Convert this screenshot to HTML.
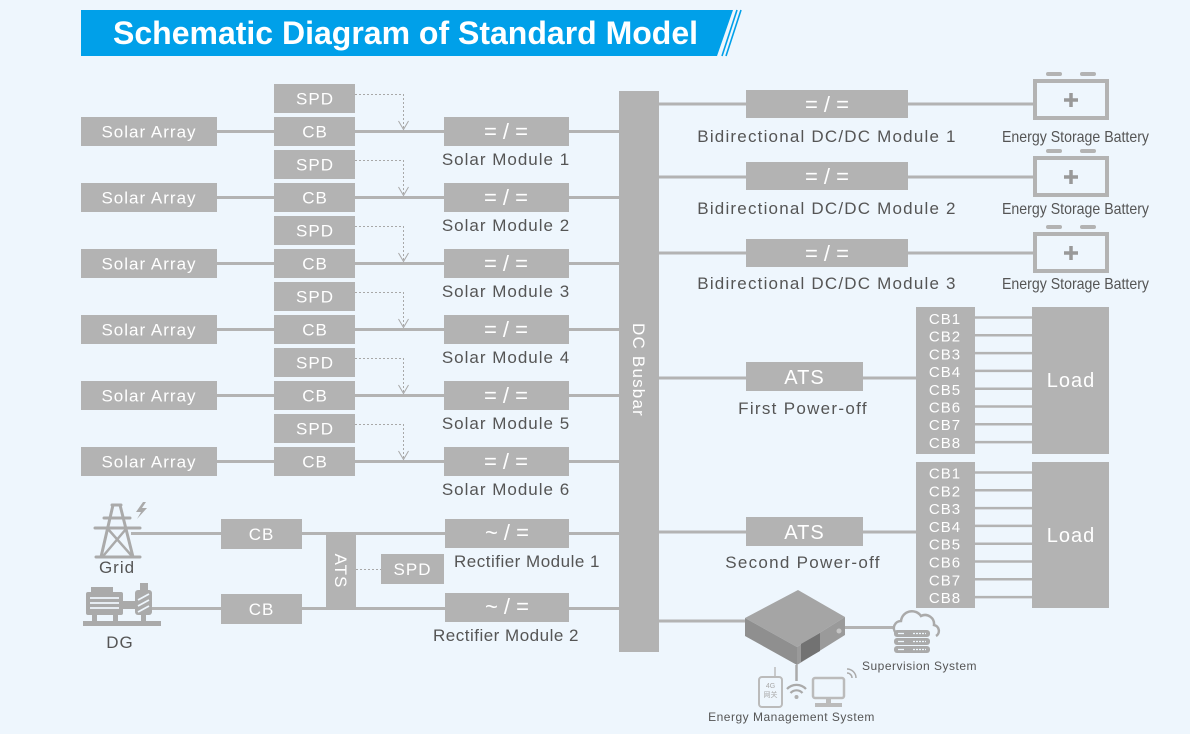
<!DOCTYPE html>
<html><head><meta charset="utf-8"><style>
html,body{margin:0;padding:0;background:#eef6fd;}
svg{display:block;font-family:"Liberation Sans",Arial,sans-serif;}
.b{fill:#b3b3b3}
.ln{stroke:#b3b3b3;stroke-width:3;fill:none}
.th{stroke:#b3b3b3;stroke-width:2.5;fill:none}
.ds{stroke:#a8a8a8;stroke-width:1;fill:none;stroke-dasharray:2,2}
.ar{stroke:#a8a8a8;stroke-width:1;fill:none}
.w{fill:#fff;text-anchor:middle}
.lb{fill:#555;font-size:17px;letter-spacing:1px;text-anchor:middle}
.t17{font-size:17px;letter-spacing:1px}
.eq{font-size:22px}
.ic{fill:#aaa}
.is{stroke:#aaa;fill:none}
</style></head><body>
<svg width="1190" height="734" viewBox="0 0 1190 734" xmlns="http://www.w3.org/2000/svg">
<rect width="1190" height="734" fill="#eef6fd"/>
<!-- Title -->
<polygon points="81,10 733,10 717,56 81,56" fill="#00a0e9"/>
<line x1="737" y1="10" x2="722" y2="56" stroke="#00a0e9" stroke-width="1.6"/>
<line x1="741" y1="10" x2="726" y2="56" stroke="#00a0e9" stroke-width="1.6"/>
<text x="113" y="44" font-size="32" font-weight="bold" fill="#fff">Schematic Diagram of Standard Model</text>

<!-- Solar rows -->
<g id="r0">
<rect class="b" x="274" y="84" width="81" height="29"/>
<rect class="b" x="81" y="117" width="136" height="29"/>
<rect class="b" x="274" y="117" width="81" height="29"/>
<rect class="b" x="444" y="117" width="125" height="29"/>
<path class="ln" d="M217,131.5H274M355,131.5H444M569,131.5H619"/>
<path class="ds" d="M355,94.5H403.5V129"/>
<polyline class="ar" points="398.5,121 403.5,129.5 408.5,121"/>
<text class="w t17" x="149" y="137.5">Solar Array</text>
<text class="w t17" x="315" y="104.5">SPD</text>
<text class="w t17" x="315" y="137.5">CB</text>
<text class="w eq" x="506" y="139">= / =</text>
<text class="lb" x="506" y="165">Solar Module 1</text>
</g>
<g transform="translate(0,66)">
<rect class="b" x="274" y="84" width="81" height="29"/>
<rect class="b" x="81" y="117" width="136" height="29"/>
<rect class="b" x="274" y="117" width="81" height="29"/>
<rect class="b" x="444" y="117" width="125" height="29"/>
<path class="ln" d="M217,131.5H274M355,131.5H444M569,131.5H619"/>
<path class="ds" d="M355,94.5H403.5V129"/>
<polyline class="ar" points="398.5,121 403.5,129.5 408.5,121"/>
<text class="w t17" x="149" y="137.5">Solar Array</text>
<text class="w t17" x="315" y="104.5">SPD</text>
<text class="w t17" x="315" y="137.5">CB</text>
<text class="w eq" x="506" y="139">= / =</text>
<text class="lb" x="506" y="165">Solar Module 2</text>
</g>
<g transform="translate(0,132)">
<rect class="b" x="274" y="84" width="81" height="29"/>
<rect class="b" x="81" y="117" width="136" height="29"/>
<rect class="b" x="274" y="117" width="81" height="29"/>
<rect class="b" x="444" y="117" width="125" height="29"/>
<path class="ln" d="M217,131.5H274M355,131.5H444M569,131.5H619"/>
<path class="ds" d="M355,94.5H403.5V129"/>
<polyline class="ar" points="398.5,121 403.5,129.5 408.5,121"/>
<text class="w t17" x="149" y="137.5">Solar Array</text>
<text class="w t17" x="315" y="104.5">SPD</text>
<text class="w t17" x="315" y="137.5">CB</text>
<text class="w eq" x="506" y="139">= / =</text>
<text class="lb" x="506" y="165">Solar Module 3</text>
</g>
<g transform="translate(0,198)">
<rect class="b" x="274" y="84" width="81" height="29"/>
<rect class="b" x="81" y="117" width="136" height="29"/>
<rect class="b" x="274" y="117" width="81" height="29"/>
<rect class="b" x="444" y="117" width="125" height="29"/>
<path class="ln" d="M217,131.5H274M355,131.5H444M569,131.5H619"/>
<path class="ds" d="M355,94.5H403.5V129"/>
<polyline class="ar" points="398.5,121 403.5,129.5 408.5,121"/>
<text class="w t17" x="149" y="137.5">Solar Array</text>
<text class="w t17" x="315" y="104.5">SPD</text>
<text class="w t17" x="315" y="137.5">CB</text>
<text class="w eq" x="506" y="139">= / =</text>
<text class="lb" x="506" y="165">Solar Module 4</text>
</g>
<g transform="translate(0,264)">
<rect class="b" x="274" y="84" width="81" height="29"/>
<rect class="b" x="81" y="117" width="136" height="29"/>
<rect class="b" x="274" y="117" width="81" height="29"/>
<rect class="b" x="444" y="117" width="125" height="29"/>
<path class="ln" d="M217,131.5H274M355,131.5H444M569,131.5H619"/>
<path class="ds" d="M355,94.5H403.5V129"/>
<polyline class="ar" points="398.5,121 403.5,129.5 408.5,121"/>
<text class="w t17" x="149" y="137.5">Solar Array</text>
<text class="w t17" x="315" y="104.5">SPD</text>
<text class="w t17" x="315" y="137.5">CB</text>
<text class="w eq" x="506" y="139">= / =</text>
<text class="lb" x="506" y="165">Solar Module 5</text>
</g>
<g transform="translate(0,330)">
<rect class="b" x="274" y="84" width="81" height="29"/>
<rect class="b" x="81" y="117" width="136" height="29"/>
<rect class="b" x="274" y="117" width="81" height="29"/>
<rect class="b" x="444" y="117" width="125" height="29"/>
<path class="ln" d="M217,131.5H274M355,131.5H444M569,131.5H619"/>
<path class="ds" d="M355,94.5H403.5V129"/>
<polyline class="ar" points="398.5,121 403.5,129.5 408.5,121"/>
<text class="w t17" x="149" y="137.5">Solar Array</text>
<text class="w t17" x="315" y="104.5">SPD</text>
<text class="w t17" x="315" y="137.5">CB</text>
<text class="w eq" x="506" y="139">= / =</text>
<text class="lb" x="506" y="165">Solar Module 6</text>
</g>

<!-- Grid / DG section -->
<!-- tower -->
<g class="is" stroke-width="3" stroke-linecap="round">
<line x1="112" y1="505" x2="121" y2="505"/>
<line x1="113" y1="505" x2="101" y2="557"/>
<line x1="120" y1="505" x2="133" y2="557"/>
<line x1="104" y1="518" x2="130" y2="518"/>
<line x1="95" y1="528" x2="140" y2="528"/>
<line x1="96" y1="557" x2="140" y2="557"/>
<line x1="108" y1="529" x2="131" y2="555" stroke-width="2.5"/>
<line x1="126" y1="529" x2="104" y2="555" stroke-width="2.5"/>
</g>
<polygon class="ic" points="143,502 136,512 141,512 137,519 147,508 142,508 146,502"/>
<!-- DG -->
<g class="ic">
<rect x="83" y="621" width="78" height="5"/>
<rect x="92" y="613" width="5" height="9"/>
<rect x="113" y="613" width="5" height="9"/>
<rect x="141" y="613" width="5" height="9"/>
<rect x="86" y="592" width="37" height="23" rx="2"/>
<rect x="91" y="587" width="22" height="6"/>
<rect x="123" y="601" width="12" height="8"/>
<rect x="135" y="590" width="17" height="25" rx="3"/>
<rect x="140" y="583" width="8" height="8"/>
</g>
<g stroke="#eef6fd" stroke-width="1.8">
<line x1="90" y1="598" x2="119" y2="598"/>
<line x1="90" y1="603" x2="119" y2="603"/>
<line x1="90" y1="608" x2="119" y2="608"/>
<line x1="138" y1="600" x2="149" y2="594"/>
<line x1="138" y1="606" x2="149" y2="600"/>
<line x1="138" y1="612" x2="149" y2="606"/>
</g>
<text class="lb" x="117" y="573">Grid</text>
<text class="lb" x="120" y="648">DG</text>

<path class="ln" d="M131,533.5H221M302,533.5H445M569,533.5H619M152,608.5H221M302,608.5H445M569,608.5H619"/>
<rect class="b" x="221" y="519" width="81" height="30"/>
<rect class="b" x="221" y="594" width="81" height="30"/>
<rect class="b" x="326" y="535" width="30" height="73"/>
<rect class="b" x="381" y="554" width="63" height="30"/>
<path class="ds" d="M356,569.5H381"/>
<rect class="b" x="445" y="519" width="124" height="29"/>
<rect class="b" x="445" y="593" width="124" height="29"/>
<text class="w t17" x="261.5" y="540">CB</text>
<text class="w t17" x="261.5" y="615">CB</text>
<text class="w t17" x="412.5" y="575">SPD</text>
<text class="w t17" transform="translate(341,571) rotate(90)" y="6">ATS</text>
<text class="w eq" x="507" y="540">~ / =</text>
<text class="w eq" x="507" y="614">~ / =</text>
<text class="lb" x="527" y="567" style="letter-spacing:0.5px">Rectifier Module 1</text>
<text class="lb" x="506" y="641" style="letter-spacing:0.5px">Rectifier Module 2</text>

<!-- DC busbar -->
<rect class="b" x="619" y="91" width="40" height="561"/>
<text class="w t17" transform="translate(639,370) rotate(90)" y="6" style="letter-spacing:1.2px">DC Busbar</text>

<!-- Bidirectional -->
<path class="ln" d="M659,104H746M908,104H1033M659,177H746M908,177H1033M659,253H746M908,253H1033"/>
<rect class="b" x="746" y="90" width="162" height="28"/>
<rect class="b" x="746" y="162" width="162" height="28"/>
<rect class="b" x="746" y="239" width="162" height="28"/>
<text class="w eq" x="827" y="112">= / =</text>
<text class="w eq" x="827" y="184">= / =</text>
<text class="w eq" x="827" y="261">= / =</text>
<text class="lb" x="827" y="142" style="letter-spacing:1.2px">Bidirectional DC/DC Module 1</text>
<text class="lb" x="827" y="214" style="letter-spacing:1.2px">Bidirectional DC/DC Module 2</text>
<text class="lb" x="827" y="289" style="letter-spacing:1.2px">Bidirectional DC/DC Module 3</text>
<!-- batteries -->
<g>
<rect x="1035" y="81" width="72" height="37" fill="none" stroke="#b3b3b3" stroke-width="4"/>
<rect x="1046" y="72" width="16" height="4" rx="2" fill="#b3b3b3"/>
<rect x="1080" y="72" width="16" height="4" rx="2" fill="#b3b3b3"/>
<path d="M1064,100H1078M1071,93V107" stroke="#999" stroke-width="3.5"/>
</g>
<g transform="translate(0,77)">
<rect x="1035" y="81" width="72" height="37" fill="none" stroke="#b3b3b3" stroke-width="4"/>
<rect x="1046" y="72" width="16" height="4" rx="2" fill="#b3b3b3"/>
<rect x="1080" y="72" width="16" height="4" rx="2" fill="#b3b3b3"/>
<path d="M1064,100H1078M1071,93V107" stroke="#999" stroke-width="3.5"/>
</g>
<g transform="translate(0,153)">
<rect x="1035" y="81" width="72" height="37" fill="none" stroke="#b3b3b3" stroke-width="4"/>
<rect x="1046" y="72" width="16" height="4" rx="2" fill="#b3b3b3"/>
<rect x="1080" y="72" width="16" height="4" rx="2" fill="#b3b3b3"/>
<path d="M1064,100H1078M1071,93V107" stroke="#999" stroke-width="3.5"/>
</g>
<text x="1002" y="142" font-size="16" fill="#555" textLength="147" lengthAdjust="spacingAndGlyphs">Energy Storage Battery</text>
<text x="1002" y="214" font-size="16" fill="#555" textLength="147" lengthAdjust="spacingAndGlyphs">Energy Storage Battery</text>
<text x="1002" y="289" font-size="16" fill="#555" textLength="147" lengthAdjust="spacingAndGlyphs">Energy Storage Battery</text>

<!-- ATS / Load 1 -->
<path class="ln" d="M659,378H746M863,378H916M659,532H746M863,532H916"/>
<rect class="b" x="746" y="362" width="117" height="29"/>
<rect class="b" x="746" y="517" width="117" height="29"/>
<text class="w" x="804.5" y="384" font-size="20" style="letter-spacing:1px">ATS</text>
<text class="w" x="804.5" y="539" font-size="20" style="letter-spacing:1px">ATS</text>
<text class="lb" x="803" y="414" style="letter-spacing:1.3px">First Power-off</text>
<text class="lb" x="803" y="568" style="letter-spacing:1.3px">Second Power-off</text>

<rect class="b" x="916" y="307" width="59" height="147"/>
<rect class="b" x="1032" y="307" width="77" height="147"/>
<rect class="b" x="916" y="462" width="59" height="146"/>
<rect class="b" x="1032" y="462" width="77" height="146"/>
<path class="th" d="M975,317.5H1032M975,335.3H1032M975,353.1H1032M975,370.9H1032M975,388.7H1032M975,406.5H1032M975,424.3H1032M975,442.1H1032"/>
<path class="th" d="M975,472.5H1032M975,490.3H1032M975,508.1H1032M975,525.9H1032M975,543.7H1032M975,561.5H1032M975,579.3H1032M975,597.1H1032"/>
<g class="w" font-size="15" style="letter-spacing:1px">
<text x="945" y="324">CB1</text><text x="945" y="341.7">CB2</text><text x="945" y="359.4">CB3</text><text x="945" y="377.1">CB4</text>
<text x="945" y="394.8">CB5</text><text x="945" y="412.5">CB6</text><text x="945" y="430.2">CB7</text><text x="945" y="448">CB8</text>
<text x="945" y="478.5">CB1</text><text x="945" y="496.3">CB2</text><text x="945" y="514.1">CB3</text><text x="945" y="531.9">CB4</text>
<text x="945" y="549.7">CB5</text><text x="945" y="567.5">CB6</text><text x="945" y="585.3">CB7</text><text x="945" y="603">CB8</text>
</g>
<text class="w" x="1071" y="387" font-size="20" style="letter-spacing:1px">Load</text>
<text class="w" x="1071" y="542" font-size="20" style="letter-spacing:1px">Load</text>

<!-- Energy management -->
<path class="ln" d="M659,621H746M845,627.5H893"/>
<polygon points="798,590 745,618 797,647 845,617" fill="#a5a5a5"/>
<polygon points="745,618 797,647 797,665 745,636" fill="#8f8f8f"/>
<polygon points="797,647 845,617 845,635 797,665" fill="#9a9a9a"/>
<polygon points="801,644 820,633 820,651 801,662" fill="#727272"/>
<circle cx="839" cy="631" r="2.5" fill="#c4c4c4"/>
<line x1="796.5" y1="665" x2="796.5" y2="681" stroke="#aaa" stroke-width="2.5"/>
<!-- wifi -->
<g class="is" stroke-width="2.2" stroke="#b0b0b0">
<path d="M787,689 A13,13 0 0 1 806,689"/>
<path d="M790.5,693 A8,8 0 0 1 802.5,693"/>
</g>
<circle cx="796.5" cy="697" r="2" fill="#b0b0b0"/>
<!-- 4G -->
<rect x="759" y="677" width="23" height="30" rx="3" fill="none" stroke="#bbb" stroke-width="2"/>
<line x1="775" y1="667" x2="775" y2="677" stroke="#bbb" stroke-width="1.5"/>
<text x="770.5" y="688" font-size="7" fill="#aaa" text-anchor="middle">4G</text>
<text x="770.5" y="697" font-size="7" fill="#aaa" text-anchor="middle" font-family="'Liberation Sans','Noto Sans CJK SC',sans-serif">网关</text>
<!-- monitor -->
<rect x="813" y="678" width="31" height="20" rx="2" fill="none" stroke="#bbb" stroke-width="2.5"/>
<rect x="826" y="699" width="5" height="5" fill="#bbb"/>
<rect x="815" y="703" width="27" height="4" fill="#bbb"/>
<g class="is" stroke="#bbb" stroke-width="1.5">
<path d="M847,673 A5,5 0 0 1 852,678"/>
<path d="M847,669 A9,9 0 0 1 856,678"/>
</g>
<!-- cloud -->
<path d="M896,633 A7,7 0 0 1 901,621 A11,11 0 0 1 921,616 A9,9 0 0 1 934,625 A6,6 0 0 1 936,636" fill="none" stroke="#aaa" stroke-width="2.5"/>
<g class="ic">
<rect x="894" y="630" width="36" height="7" rx="3"/>
<rect x="894" y="638" width="36" height="7" rx="3"/>
<rect x="894" y="646" width="36" height="7" rx="3"/>
</g>
<g stroke="#eef6fd" stroke-width="1.2">
<path d="M898,633.5H904M898,641.5H904M898,649.5H904"/>
<path d="M913,633.5H926M913,641.5H926M913,649.5H926" stroke-dasharray="2,1"/>
</g>
<text x="919.5" y="670" font-size="12" fill="#555" text-anchor="middle" style="letter-spacing:0.5px">Supervision System</text>
<text x="791.5" y="721" font-size="12" fill="#555" text-anchor="middle" style="letter-spacing:0.5px">Energy Management System</text>
</svg>
</body></html>
